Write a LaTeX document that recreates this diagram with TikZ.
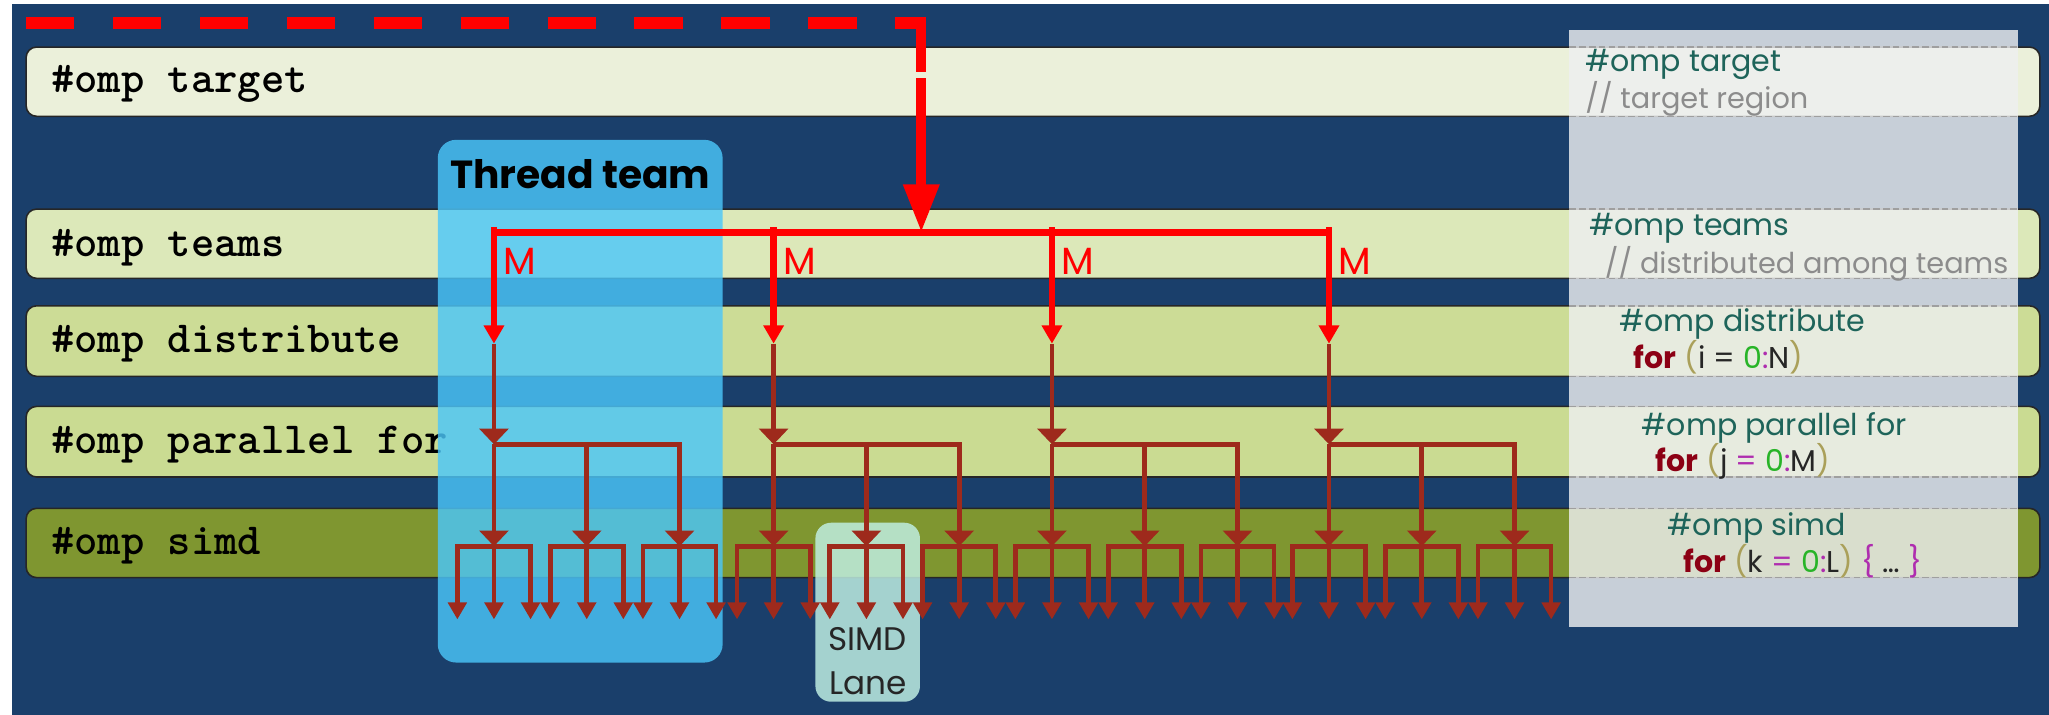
\documentclass[tikz,border=0pt]{standalone}
\usepackage{fontspec}
\setmainfont{Poppins}
\usetikzlibrary{arrows.meta}

\definecolor{slideblue}{RGB}{26,63,107}
\definecolor{bandtarget}{RGB}{235,240,218}
\definecolor{bandteams}{RGB}{220,232,185}
\definecolor{banddist}{RGB}{204,220,150}
\definecolor{bandpar}{RGB}{202,219,146}
\definecolor{bandsimd}{RGB}{127,150,48}
\definecolor{teamfill}{RGB}{75,199,251}
\definecolor{lanefill}{RGB}{193,240,228}
\definecolor{panelfill}{RGB}{238,239,240}
\definecolor{treered}{RGB}{158,42,28}
\definecolor{notecol}{RGB}{30,100,90}
\definecolor{commentcol}{RGB}{140,140,140}
\definecolor{kwcol}{RGB}{140,0,20}
\definecolor{parencol}{RGB}{170,160,90}
\definecolor{opcol}{RGB}{175,45,175}
\definecolor{numcol}{RGB}{40,180,40}

\tikzset{
  band/.style={draw=black!85,line width=1.2pt,rounded corners=8pt},
  bandlabel/.style={anchor=base west,inner sep=0pt,font=\ttfamily\bfseries\fontsize{34}{34}\selectfont},
  note/.style={anchor=base west,inner sep=0pt,text=notecol,font=\fontsize{23}{23}\selectfont},
  comment/.style={note,text=commentcol,font=\fontsize{22}{22}\selectfont},
  code/.style={note,text=black!85},
  paneldash/.style={gray!75,line width=1.2pt,dash pattern=on 5pt off 2.5pt},
  mlabel/.style={anchor=west,inner sep=0pt,text=red,font=\fontsize{29}{29}\selectfont},
  teamarrow/.style={red,line width=5pt,-{Triangle[width=15pt,length=14pt]}},
  tree/.style={treered,line width=3.6pt,-{Triangle[width=22pt,length=12pt]}},
  lanearrow/.style={treered,line width=3.6pt,-{Triangle[width=14pt,length=13pt]}},
}
\newcommand{\kwd}[1]{\textcolor{kwcol}{\bfseries #1}}
\newcommand{\prn}[1]{\textcolor{parencol}{#1}}
\newcommand{\opr}[1]{\textcolor{opcol}{#1}}
\newcommand{\zero}[1]{\textcolor{numcol}{#1}}

\begin{document}
\begin{tikzpicture}[x=1pt,y=-1pt,>=Triangle]
\useasboundingbox (0,0) rectangle (1568,547);
\fill[slideblue] (9,3) rectangle (1568,547);

% bands
\filldraw[band,fill=bandtarget] (20,36) rectangle (1561,89);
\filldraw[band,fill=bandteams] (20,160) rectangle (1561,213);
\filldraw[band,fill=banddist] (20,234) rectangle (1561,288);
\filldraw[band,fill=bandpar] (20,311) rectangle (1561,365);
\filldraw[band,fill=bandsimd] (20,389) rectangle (1561,442);

\node[bandlabel] (target) at (39,71) {\#omp target};
\node[bandlabel] (teams) at (39,196) {\#omp teams};
\node[bandlabel] (distribute) at (39,270) {\#omp distribute};
\node[bandlabel] (parfor) at (39,347) {\#omp parallel for};
\node[bandlabel] (simd) at (39,424) {\#omp simd};

% code panel
\fill[panelfill,opacity=0.82] (1201,23) rectangle (1544,480);
\foreach \y in {36,89,160,213,234,288,311,365,389,442}
  \draw[paneldash] (1201,\y) -- (1544,\y);

\node[note] (ntarget) at (1213,55) {\#omp target};
\node[comment] (ctarget) at (1213,83) {// target region};
\node[note] (nteams) at (1216,180) {\#omp teams};
\node[comment] (cteams) at (1228,209) {// distributed among teams};
\node[note] (ndist) at (1239,254) {\#omp distribute};
\node[code] (fori) at (1250,282) {\kwd{for} \prn{(}i = \zero{0}\opr{:}N\prn{)}};
\node[note] (npar) at (1256,333) {\#omp parallel for};
\node[code] (forj) at (1267,361) {\kwd{for} \prn{(}j \opr{=} \zero{0}\opr{:}M\prn{)}};
\node[note] (nsimd) at (1276,410) {\#omp simd};
\node[code] (fork) at (1288,438) {\kwd{for} \prn{(}k \opr{=} \zero{0}\opr{:}L\prn{)} \opr{\{} \ldots\ \opr{\}}};

% thread team and simd lane
\fill[teamfill,opacity=0.81,rounded corners=14pt] (335,107) rectangle (553,507);
\fill[lanefill,opacity=0.83,rounded corners=12pt] (624,400) rectangle (704,537);
\node[font=\fontsize{25}{34}\selectfont,text=black!85,align=center] (lane) at (664,506) {SIMD\\Lane};

% offload
\coordinate (dashstart) at (20,17.5);
\coordinate (corner) at (705,17.5);
\coordinate (hub) at (705,178);
\draw[red,line width=9pt,dash pattern=on 37pt off 29.5pt] (dashstart) -- (corner);
\draw[red,line width=7.6pt,dash pattern=on 42pt off 5pt on 300pt,-{Triangle[width=26pt,length=37pt]}] ([yshift=4.5pt]corner) -- (hub);

\foreach \i/\x in {1/378,2/592,3/805,4/1017} {
  \coordinate (t\i) at (\x,178);
  \coordinate (d\i) at (\x,263);
  \coordinate (p\i) at (\x,340);
}
\draw[red,line width=5pt] (t1) -- (t4);

\foreach \i/\x in {1/378,2/592,3/805,4/1017} {
  \draw[teamarrow] ([yshift=4pt]t\i) -- (d\i);
  \node[mlabel] (m\i) at (\x+7,200) {M};
  \draw[tree] (d\i) -- (p\i);
  \foreach \j in {0,1,2} {
    \coordinate (s\i\j) at (\x+71*\j,418);
    \coordinate (la\i\j) at (\x+71*\j-28,474);
    \coordinate (lb\i\j) at (\x+71*\j,474);
    \coordinate (lc\i\j) at (\x+71*\j+28,474);
  }
  \draw[tree] (p\i) -- (s\i0);
  \draw[tree] (p\i -| s\i1) -- (s\i1);
  \draw[tree] (p\i) -| (s\i2);
  \foreach \j in {0,1,2} {
    \draw[lanearrow] (s\i\j) -| (la\i\j);
    \draw[lanearrow] (s\i\j) -- (lb\i\j);
    \draw[lanearrow] (s\i\j) -| (lc\i\j);
  }
}

\node[font=\bfseries\fontsize{30}{30}\selectfont] (teamtitle) at (444,133) {Thread team};
\end{tikzpicture}
\end{document}
